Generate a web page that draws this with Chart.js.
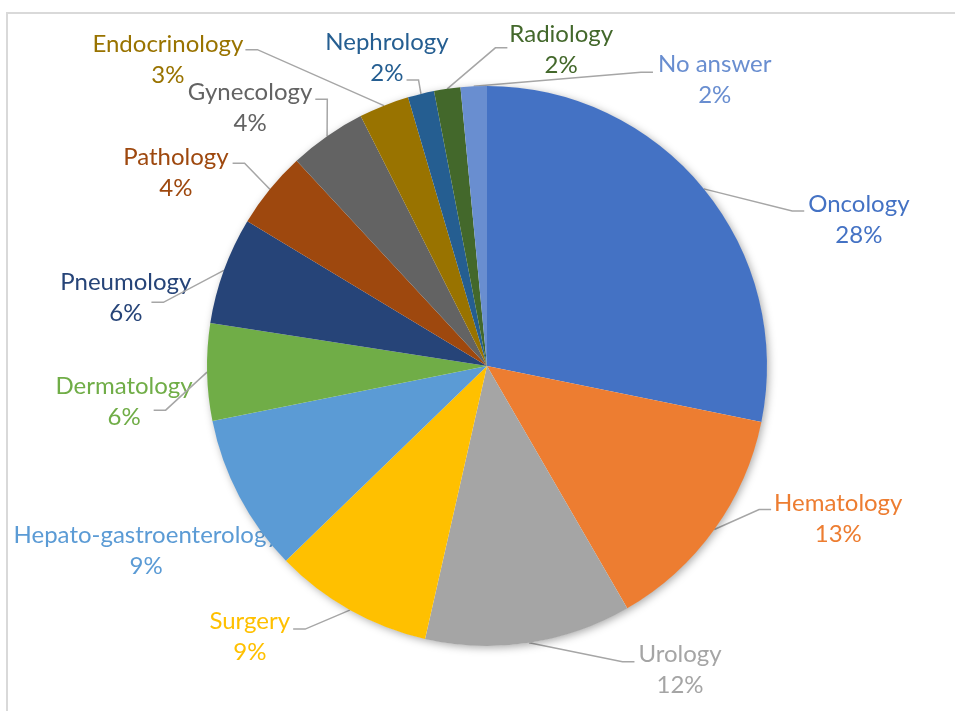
<!DOCTYPE html>
<html lang="en">
<head>
  <meta charset="UTF-8" />
  <title>Specialties</title>
  <script src="https://cdn.jsdelivr.net/npm/chart.js"></script>
  <style>
    body {
      margin: 0;
      padding: 0;
      background: white;
      overflow: hidden;
    }
    .frame {
      position: absolute;
      left: 6px;
      top: 12px;
      width: 1000px;
      height: 800px;
      border: 2px solid #d9d9d9;
    }
    .wrap {
      position: absolute;
      left: 0;
      top: 0;
      width: 955px;
      height: 711px;
    }
  </style>
</head>
<body>

<div class="frame"></div>
<div class="wrap"><canvas id="pieChart"></canvas></div>

<script>
// share of respondents per specialty (%)
const specialties = ["Oncology", "Hematology", "Urology", "Surgery", "Hepato-gastroenterology",
  "Dermatology", "Pneumology", "Pathology", "Gynecology", "Endocrinology",
  "Nephrology", "Radiology", "No answer"];
const shares = [28.2, 13.45, 11.9, 9.2, 9.1, 5.6, 6.2, 4.45, 4.45, 2.9, 1.52, 1.52, 1.51];
const colors = ["#4472c4", "#ed7d31", "#a5a5a5", "#ffc000", "#5b9bd5", "#70ad47", "#264478",
  "#9e480e", "#636363", "#997300", "#255e91", "#43682b", "#698ed0"];

// where each label sits relative to its slice edge point, and where the leader attaches
// dx,dy: text centre / first baseline; side: which side of the text the line joins
// line: which text line it joins; ay: attach height from first baseline; gap: space to text
const labelLayout = [
  { dx: 155, dy: 23, side: "left", line: 0, ay: -1, gap: 4 },
  { dx: 124, dy: -19, side: "left", line: 0, ay: -1, gap: 3 },
  { dx: 151, dy: 19, side: "left", line: 0, ay: 0, gap: 4 },
  { dx: -100, dy: 19, side: "right", line: 0, ay: 0, gap: 3 },
  { dx: -93, dy: 47, side: null },
  { dx: -83, dy: 22, side: "right", line: 1, ay: 16, gap: 13 },
  { dx: -98, dy: 20, side: "right", line: 1, ay: 12, gap: 9 },
  { dx: -94, dy: -24, side: "right", line: 0, ay: -2, gap: 4 },
  { dx: -77, dy: -36, side: "right", line: 0, ay: -1, gap: 3 },
  { dx: -216, dy: -54, side: "right", line: 0, ay: -2, gap: 2 },
  { dx: -34, dy: -44, side: "right", line: 1, ay: 30, gap: 3 },
  { dx: 114, dy: -47, side: "left", line: 0, ay: 6, gap: 2 },
  { dx: 241, dy: -14, side: "left", line: 0, ay: 0, gap: 5 }
];

const labelFont = "24px Lato";
const lineGap = 31;
const total = shares.reduce((a, b) => a + b, 0);

// outside labels with leader lines, drawn under the pie
const outsideLabels = {
  id: "outsideLabels",
  beforeDatasetsDraw(chart) {
    const ctx = chart.ctx;
    const arcs = chart.getDatasetMeta(0).data;
    ctx.save();
    ctx.font = labelFont;
    ctx.textAlign = "center";
    ctx.textBaseline = "alphabetic";
    arcs.forEach((arc, i) => {
      const mid = (arc.startAngle + arc.endAngle) / 2;
      const ex = arc.x + Math.cos(mid) * arc.outerRadius;
      const ey = arc.y + Math.sin(mid) * arc.outerRadius;
      const lay = labelLayout[i];
      const tx = ex + lay.dx;
      const ty = ey + lay.dy;
      const lines = [specialties[i], Math.round(shares[i] / total * 100) + "%"];

      ctx.fillStyle = colors[i];
      ctx.fillText(lines[0], tx, ty);
      ctx.fillText(lines[1], tx, ty + lineGap);

      if (lay.side) {
        const w = ctx.measureText(lines[lay.line]).width;
        const dir = lay.side === "left" ? -1 : 1;
        const hx = tx + dir * (w / 2 + lay.gap);
        const hy = ty + lay.ay;
        ctx.strokeStyle = "#a6a6a6";
        ctx.lineWidth = 1.5;
        ctx.beginPath();
        ctx.moveTo(ex, ey);
        ctx.lineTo(hx + dir * 12, hy);
        ctx.lineTo(hx, hy);
        ctx.stroke();
      }
    });

    // soft shadow behind the whole pie
    const a0 = arcs[0];
    ctx.shadowColor = "rgba(0,0,0,0.35)";
    ctx.shadowBlur = 9;
    ctx.shadowOffsetX = 2;
    ctx.shadowOffsetY = 2;
    ctx.fillStyle = "#ffffff";
    ctx.beginPath();
    ctx.arc(a0.x, a0.y, a0.outerRadius - 0.5, 0, Math.PI * 2);
    ctx.fill();
    ctx.restore();
  }
};

new Chart(document.getElementById("pieChart"), {
  type: "pie",
  data: {
    labels: specialties,
    datasets: [{
      data: shares,
      backgroundColor: colors,
      borderWidth: 0
    }]
  },
  options: {
    responsive: true,
    maintainAspectRatio: false,
    animation: false,
    layout: { padding: { top: 86, bottom: 65, left: 200, right: 181 } },
    plugins: {
      legend: { display: false },
      tooltip: { enabled: false }
    }
  },
  plugins: [outsideLabels]
});
</script>

</body>
</html>
